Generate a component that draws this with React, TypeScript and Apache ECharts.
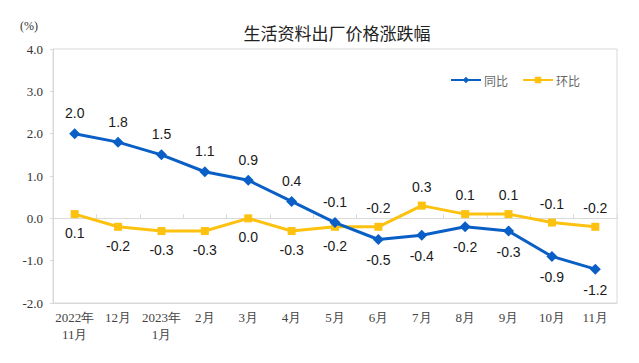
import React, { useEffect, useRef } from "react";
import * as echarts from "echarts";

const categories = [
  "2022年\n11月", "12月", "2023年\n1月", "2月", "3月", "4月", "5月",
  "6月", "7月", "8月", "9月", "10月", "11月",
];
const yoy = [2.0, 1.8, 1.5, 1.1, 0.9, 0.4, -0.1, -0.5, -0.4, -0.2, -0.3, -0.9, -1.2];
const mom = [0.1, -0.2, -0.3, -0.3, 0.0, -0.3, -0.2, -0.2, 0.3, 0.1, 0.1, -0.1, -0.2];
const yoyLabelPos = ["top", "top", "top", "top", "top", "top", "top", "bottom", "bottom", "bottom", "bottom", "bottom", "bottom"];
const momLabelPos = ["bottom", "bottom", "bottom", "bottom", "bottom", "bottom", "bottom", "top", "top", "top", "top", "top", "top"];

const BLUE = "#0a5fc6";
const YELLOW = "#fdc10f";

export default function App() {
  const ref = useRef<HTMLDivElement>(null);
  useEffect(() => {
    if (!ref.current) return;
    const chart = echarts.init(ref.current, undefined, { renderer: "svg" });
    const labelStyle = {
      show: true,
      fontSize: 14,
      fontFamily: "Liberation Sans, Arial, sans-serif",
      color: "#1a1a1a",
      distance: 8,
      formatter: (p: any) => Number(p.value).toFixed(1),
    };
    chart.setOption({
      animation: false,
      backgroundColor: "#ffffff",
      title: {
        text: "生活资料出厂价格涨跌幅",
        left: 332,
        top: 19,
        textAlign: "center",
        textStyle: {
          fontSize: 17,
          fontWeight: "normal",
          color: "#222",
          fontFamily: "Noto Sans CJK SC, sans-serif",
        },
      },
      graphic: [
        {
          type: "text",
          left: 20,
          top: 20,
          style: {
            text: "(%)",
            fontSize: 12,
            fontFamily: "Liberation Serif, serif",
            fill: "#333",
          },
        },
      ],
      legend: {
        top: 69,
        left: 445,
        itemWidth: 30,
        itemHeight: 8,
        itemGap: 14,
        textStyle: {
          fontSize: 12,
          color: "#666",
          fontFamily: "Noto Sans CJK SC, sans-serif",
          padding: [0, 0, 0, -2],
        },
        data: ["同比", "环比"],
      },
      grid: {
        left: 53,
        right: 22,
        top: 49,
        bottom: 60,
        show: true,
        borderColor: "#d9d9d9",
        borderWidth: 1,
      },
      xAxis: [
        {
          type: "category",
          data: categories,
          boundaryGap: true,
          axisLine: { show: true, onZero: false, lineStyle: { color: "#d9d9d9" } },
          axisTick: { show: false },
          axisLabel: {
            interval: 0,
            color: "#444",
            fontSize: 13,
            lineHeight: 17,
            margin: 6,
            fontFamily: "Liberation Serif, serif",
          },
        },
        {
          type: "category",
          data: categories,
          boundaryGap: true,
          position: "bottom",
          axisLine: { show: true, onZero: true, lineStyle: { color: "#d9d9d9" } },
          axisTick: { show: true, inside: true, length: 4, interval: 0, lineStyle: { color: "#d9d9d9" } },
          axisLabel: { show: false },
        },
      ],
      yAxis: {
        type: "value",
        min: -2,
        max: 4,
        interval: 1,
        splitLine: { show: false },
        axisLine: { show: true, lineStyle: { color: "#d9d9d9" } },
        axisTick: { show: true, length: 3, lineStyle: { color: "#d9d9d9" } },
        axisLabel: {
          color: "#333",
          fontSize: 13,
          margin: 10,
          fontFamily: "Liberation Serif, serif",
          formatter: (v: number) => v.toFixed(1),
        },
      },
      series: [
        {
          name: "同比",
          type: "line",
          data: yoy.map((v, i) => ({ value: v, label: { position: yoyLabelPos[i] } })),
          symbol: "diamond",
          symbolSize: 11,
          lineStyle: { color: BLUE, width: 3 },
          itemStyle: { color: BLUE },
          label: labelStyle,
          z: 3,
        },
        {
          name: "环比",
          type: "line",
          data: mom.map((v, i) => ({ value: v, label: { position: momLabelPos[i] } })),
          symbol: "rect",
          symbolSize: 8,
          lineStyle: { color: YELLOW, width: 3 },
          itemStyle: { color: YELLOW },
          label: labelStyle,
          z: 2,
        },
      ],
    });
    return () => chart.dispose();
  }, []);
  return <div ref={ref} style={{ width: 639, height: 363, position: "absolute", left: 0, top: 0 }} />;
}
